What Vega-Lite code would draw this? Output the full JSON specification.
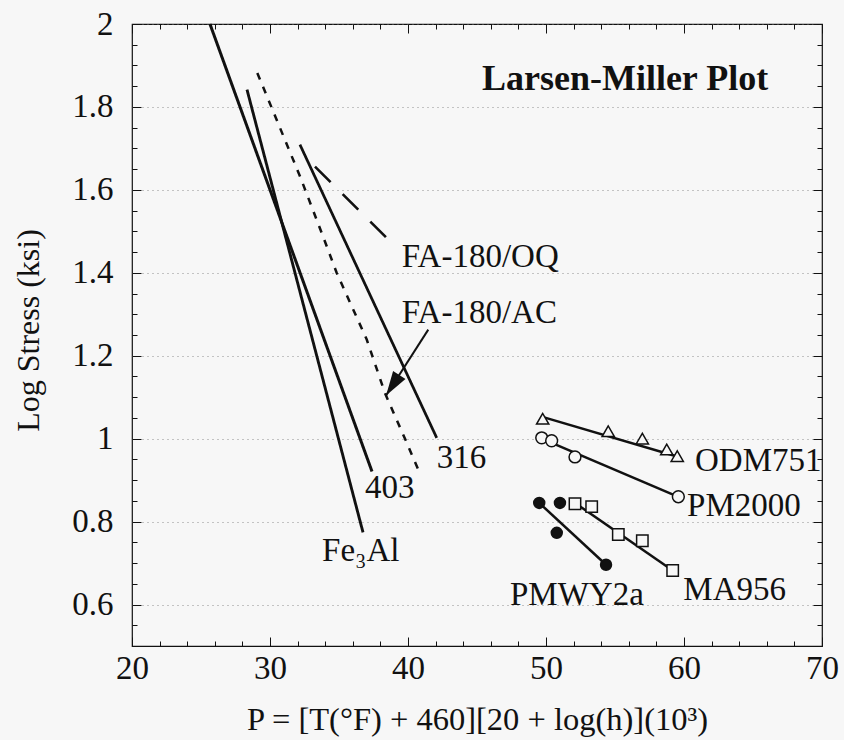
{
  "$schema": "https://vega.github.io/schema/vega-lite/v6.json",
  "width": 690,
  "height": 622,
  "autosize": "none",
  "padding": {"left": 132, "top": 24, "right": 22, "bottom": 94},
  "background": "#f7f7f7",
  "config": {
    "view": {"stroke": "#111", "strokeWidth": 1.2},
    "font": "Liberation Serif",
    "text": {"font": "Liberation Serif"},
    "axis": {"labelFont": "Liberation Serif", "titleFont": "Liberation Serif", "labelColor": "#111", "titleColor": "#111", "tickColor": "#111"}
  },
  "datasets": {
    "curves": [
      {"series": "403", "x": 25.65, "y": 2.0},
      {"series": "403", "x": 37.39, "y": 0.921},
      {"series": "Fe3Al", "x": 28.33, "y": 1.842},
      {"series": "Fe3Al", "x": 36.74, "y": 0.774},
      {"series": "316", "x": 32.17, "y": 1.709},
      {"series": "316", "x": 42.08, "y": 1.002},
      {"series": "FA-180/OQ", "x": 33.26, "y": 1.656},
      {"series": "FA-180/OQ", "x": 38.46, "y": 1.484},
      {"series": "FA-180/AC", "x": 29.08, "y": 1.882},
      {"series": "FA-180/AC", "x": 32.17, "y": 1.633},
      {"series": "FA-180/AC", "x": 33.75, "y": 1.496},
      {"series": "FA-180/AC", "x": 34.83, "y": 1.4},
      {"series": "FA-180/AC", "x": 37.01, "y": 1.239},
      {"series": "FA-180/AC", "x": 38.33, "y": 1.11},
      {"series": "FA-180/AC", "x": 39.91, "y": 0.99},
      {"series": "FA-180/AC", "x": 40.75, "y": 0.925}
    ],
    "fits": [
      {"alloy": "ODM751", "x": 49.8, "y": 1.052},
      {"alloy": "ODM751", "x": 59.5, "y": 0.957},
      {"alloy": "PM2000", "x": 49.69, "y": 1.0},
      {"alloy": "PM2000", "x": 59.55, "y": 0.86},
      {"alloy": "PMWY2a", "x": 49.51, "y": 0.845},
      {"alloy": "PMWY2a", "x": 54.35, "y": 0.696},
      {"alloy": "MA956", "x": 52.1, "y": 0.845},
      {"alloy": "MA956", "x": 59.18, "y": 0.682}
    ],
    "points": [
      {"alloy": "ODM751", "x": 49.76, "y": 1.048},
      {"alloy": "ODM751", "x": 54.51, "y": 1.018},
      {"alloy": "ODM751", "x": 56.98, "y": 1.0},
      {"alloy": "ODM751", "x": 58.75, "y": 0.974},
      {"alloy": "ODM751", "x": 59.51, "y": 0.958},
      {"alloy": "PM2000", "x": 49.69, "y": 1.002},
      {"alloy": "PM2000", "x": 50.41, "y": 0.995},
      {"alloy": "PM2000", "x": 52.1, "y": 0.956},
      {"alloy": "PM2000", "x": 59.59, "y": 0.86},
      {"alloy": "PMWY2a", "x": 49.51, "y": 0.845},
      {"alloy": "PMWY2a", "x": 51.01, "y": 0.845},
      {"alloy": "PMWY2a", "x": 50.78, "y": 0.773},
      {"alloy": "PMWY2a", "x": 54.35, "y": 0.696},
      {"alloy": "MA956", "x": 52.1, "y": 0.843},
      {"alloy": "MA956", "x": 53.31, "y": 0.836},
      {"alloy": "MA956", "x": 55.24, "y": 0.769},
      {"alloy": "MA956", "x": 56.98, "y": 0.754},
      {"alloy": "MA956", "x": 59.18, "y": 0.682}
    ],
    "arrow": [
      {"end": "tail", "x": 41.47, "y": 1.263},
      {"end": "tip", "x": 38.41, "y": 1.104}
    ],
    "labels": [
      {"label": "FA-180/OQ", "x": 39.54, "y": 1.438},
      {"label": "FA-180/AC", "x": 39.54, "y": 1.304},
      {"label": "316", "x": 42.08, "y": 0.954},
      {"label": "403", "x": 36.88, "y": 0.882},
      {"label": "Fe₃Al", "x": 33.77, "y": 0.73},
      {"label": "ODM751", "x": 60.8, "y": 0.946},
      {"label": "PM2000", "x": 60.22, "y": 0.837},
      {"label": "MA956", "x": 59.95, "y": 0.636},
      {"label": "PMWY2a", "x": 47.39, "y": 0.622}
    ],
    "title": [
      {"label": "Larsen-Miller Plot", "x": 66.1, "y": 1.842}
    ]
  },
  "resolve": {"axis": {"x": "independent", "y": "independent"}},
  "layer": [
    {
      "data": {"name": "curves"},
      "mark": {"type": "line", "color": "#111"},
      "encoding": {
        "x": {"field": "x", "type": "quantitative", "scale": {"domain": [20, 70], "nice": false, "zero": false},
          "axis": {"orient": "bottom", "values": [20, 30, 40, 50, 60, 70], "format": "d", "ticks": false, "domain": false, "grid": false,
            "labelFont": "Liberation Serif", "labelFontSize": 33, "labelPadding": 6, "labelFlush": false,
            "title": "P = [T(°F) + 460][20 + log(h)](10³)", "titleFont": "Liberation Serif", "titleFontSize": 32.5, "titleFontWeight": "normal",
            "titleX": 345, "titleY": 83, "titleBaseline": "alphabetic", "titleAlign": "center"}},
        "y": {"field": "y", "type": "quantitative", "scale": {"domain": [0.5, 2], "nice": false, "zero": false},
          "axis": {"orient": "left", "values": [0.6, 0.8, 1, 1.2, 1.4, 1.6, 1.8, 2], "format": "~r", "ticks": false, "domain": false, "grid": false,
            "labelFont": "Liberation Serif", "labelFontSize": 33, "labelPadding": 19, "labelFlush": false,
            "title": "Log Stress (ksi)", "titleFont": "Liberation Serif", "titleFontSize": 32, "titleFontWeight": "normal",
            "titleX": -94, "titleY": 306, "titleAngle": -90, "titleBaseline": "alphabetic", "titleAlign": "center"}},
        "detail": {"field": "series"},
        "strokeDash": {"field": "series", "type": "nominal", "legend": null,
          "scale": {"domain": ["403", "Fe3Al", "316", "FA-180/OQ", "FA-180/AC"], "range": [[1, 0], [1, 0], [1, 0], [22, 17], [7, 8]]}},
        "strokeWidth": {"field": "series", "type": "nominal", "legend": null,
          "scale": {"domain": ["403", "Fe3Al", "316", "FA-180/OQ", "FA-180/AC"], "range": [3, 2.5, 3, 3, 3.2]}}
      }
    },
    {
      "data": {"name": "fits"},
      "mark": {"type": "line", "color": "#111", "strokeWidth": 2.5},
      "encoding": {
        "x": {"field": "x", "type": "quantitative", "scale": {"domain": [20, 70], "nice": false, "zero": false},
          "axis": {"orient": "bottom", "values": [20,22,24,26,28,30,32,34,36,38,40,42,44,46,48,50,52,54,56,58,60,62,64,66,68,70],
            "labels": false, "domain": false, "grid": false, "title": null, "tickWidth": 1,
            "tickSize": {"condition": {"test": "datum.value % 10 === 0", "value": -9}, "value": -5}}},
        "y": {"field": "y", "type": "quantitative", "scale": {"domain": [0.5, 2], "nice": false, "zero": false},
          "axis": {"orient": "left", "values": [0.5,0.55,0.6,0.65,0.7,0.75,0.8,0.85,0.9,0.95,1,1.05,1.1,1.15,1.2,1.25,1.3,1.35,1.4,1.45,1.5,1.55,1.6,1.65,1.7,1.75,1.8,1.85,1.9,1.95,2],
            "labels": false, "domain": false, "title": null, "tickWidth": 1,
            "tickSize": {"condition": {"test": "abs(datum.value * 5 - round(datum.value * 5)) < 0.001", "value": -9}, "value": -5},
            "grid": true, "gridDash": [1, 4], "gridColor": "#777", "gridWidth": 1,
            "gridOpacity": {"condition": {"test": "abs(datum.value * 5 - round(datum.value * 5)) < 0.001", "value": 0.8}, "value": 0}}},
        "detail": {"field": "alloy"}
      }
    },
    {
      "data": {"name": "points"},
      "mark": {"type": "point", "filled": true, "stroke": "#111", "strokeWidth": 1.5, "opacity": 1},
      "encoding": {
        "x": {"field": "x", "type": "quantitative", "scale": {"domain": [20, 70], "nice": false, "zero": false},
          "axis": {"orient": "top", "values": [20,22,24,26,28,30,32,34,36,38,40,42,44,46,48,50,52,54,56,58,60,62,64,66,68,70],
            "labels": false, "domain": false, "grid": false, "title": null, "tickWidth": 1,
            "tickSize": {"condition": {"test": "datum.value % 10 === 0", "value": -9}, "value": -5}}},
        "y": {"field": "y", "type": "quantitative", "scale": {"domain": [0.5, 2], "nice": false, "zero": false},
          "axis": {"orient": "right", "values": [0.5,0.55,0.6,0.65,0.7,0.75,0.8,0.85,0.9,0.95,1,1.05,1.1,1.15,1.2,1.25,1.3,1.35,1.4,1.45,1.5,1.55,1.6,1.65,1.7,1.75,1.8,1.85,1.9,1.95,2],
            "labels": false, "domain": false, "grid": false, "title": null, "tickWidth": 1,
            "tickSize": {"condition": {"test": "abs(datum.value * 5 - round(datum.value * 5)) < 0.001", "value": -9}, "value": -5}}},
        "shape": {"field": "alloy", "type": "nominal", "legend": null,
          "scale": {"domain": ["ODM751", "PM2000", "MA956", "PMWY2a"], "range": ["triangle-up", "circle", "square", "circle"]}},
        "fill": {"field": "alloy", "type": "nominal", "legend": null,
          "scale": {"domain": ["ODM751", "PM2000", "MA956", "PMWY2a"], "range": ["#f7f7f7", "#f7f7f7", "#f7f7f7", "#111111"]}},
        "size": {"field": "alloy", "type": "nominal", "legend": null,
          "scale": {"domain": ["ODM751", "PM2000", "MA956", "PMWY2a"], "range": [150, 120, 110, 70]}}
      }
    },
    {
      "data": {"name": "arrow"},
      "mark": {"type": "line", "color": "#111", "strokeWidth": 2},
      "encoding": {
        "x": {"field": "x", "type": "quantitative", "axis": null},
        "y": {"field": "y", "type": "quantitative", "axis": null}
      }
    },
    {
      "data": {"name": "arrow"},
      "transform": [{"filter": "datum.end === 'tip'"}],
      "mark": {"type": "point", "shape": "M0,0L-0.3,1L0.3,1Z", "filled": true, "color": "#111", "opacity": 1, "size": 2400, "angle": 212.7},
      "encoding": {
        "x": {"field": "x", "type": "quantitative", "axis": null},
        "y": {"field": "y", "type": "quantitative", "axis": null}
      }
    },
    {
      "data": {"name": "labels"},
      "mark": {"type": "text", "align": "left", "baseline": "middle", "fontSize": 33, "font": "Liberation Serif", "color": "#111"},
      "encoding": {
        "x": {"field": "x", "type": "quantitative", "axis": null},
        "y": {"field": "y", "type": "quantitative", "axis": null},
        "text": {"field": "label"}
      }
    },
    {
      "data": {"name": "title"},
      "mark": {"type": "text", "align": "right", "baseline": "alphabetic", "fontSize": 36, "fontWeight": "bold", "font": "Liberation Serif", "color": "#111"},
      "encoding": {
        "x": {"field": "x", "type": "quantitative", "axis": null},
        "y": {"field": "y", "type": "quantitative", "axis": null},
        "text": {"field": "label"}
      }
    }
  ]
}
